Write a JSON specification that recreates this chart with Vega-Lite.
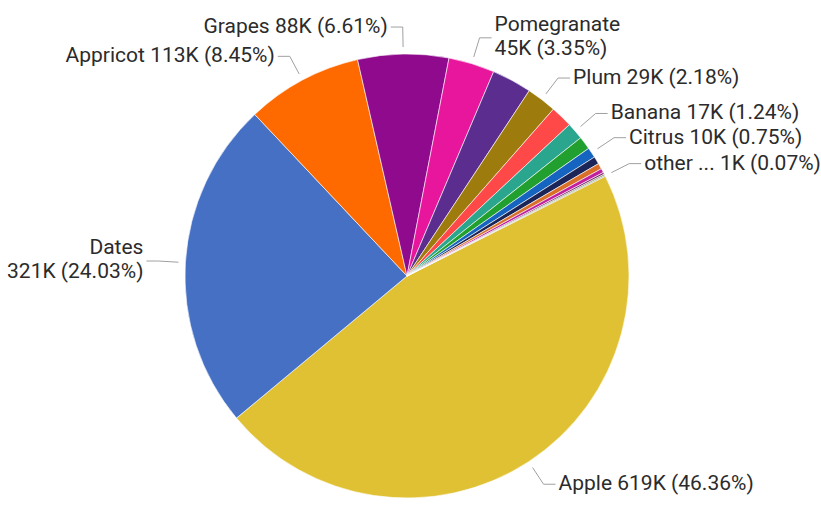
{
  "$schema": "https://vega.github.io/schema/vega-lite/v6.json",
  "width": 814,
  "height": 468,
  "autosize": "none",
  "padding": {"top": 42, "left": 0, "right": 7, "bottom": 0},
  "background": "white",
  "config": {"view": {"stroke": null}},
  "data": {
    "values": [
      {"fruit": "Apple", "value": 619140},
      {"fruit": "Dates", "value": 320920},
      {"fruit": "Appricot", "value": 112850},
      {"fruit": "Grapes", "value": 88280},
      {"fruit": "Pomegranate", "value": 44740},
      {"fruit": "Mango", "value": 38730},
      {"fruit": "Plum", "value": 29110},
      {"fruit": "Cherry", "value": 21370},
      {"fruit": "Banana", "value": 16560},
      {"fruit": "Kiwi", "value": 12690},
      {"fruit": "Citrus", "value": 10020},
      {"fruit": "Peach", "value": 7350},
      {"fruit": "Pear", "value": 5610},
      {"fruit": "Fig", "value": 4010},
      {"fruit": "Guava", "value": 1870},
      {"fruit": "Lychee", "value": 1340},
      {"fruit": "other ...", "value": 930}
    ]
  },
  "transform": [
    {"joinaggregate": [{"op": "sum", "field": "value", "as": "total"}]},
    {"window": [{"op": "sum", "field": "value", "as": "cum"}], "sort": [{"field": "value", "order": "descending"}], "frame": [null, 0]},
    {"calculate": "1.1048 + 2*PI*(datum.cum - datum.value)/datum.total", "as": "a0"},
    {"calculate": "1.1048 + 2*PI*datum.cum/datum.total", "as": "a1"},
    {"calculate": "(datum.a0 + datum.a1)/2", "as": "mid"},
    {"calculate": "sin(datum.mid) >= 0 ? 1 : -1", "as": "dir"},
    {"calculate": "229*sin(datum.mid)", "as": "rx"},
    {"calculate": "229*cos(datum.mid)", "as": "ry"},
    {"calculate": "249*sin(datum.mid)", "as": "ex"},
    {"calculate": "249*cos(datum.mid)", "as": "ey"},
    {"calculate": "datum.ex + datum.dir*12", "as": "hx"},
    {"calculate": "datum.ex + datum.dir*15", "as": "tx"},
    {"calculate": "datum.fruit == 'Dates' || datum.fruit == 'Pomegranate'", "as": "wrap"},
    {"calculate": "datum.ey + (datum.wrap ? 13 : 0)", "as": "ty"},
    {"calculate": "datum.value/datum.total*100", "as": "pct"},
    {"calculate": "datum.fruit + (datum.wrap ? '\\n' : ' ') + format(datum.value/1000, '.0f') + 'K (' + format(datum.pct, '.2f') + '%)'", "as": "label"}
  ],
  "layer": [
    {
      "mark": {"type": "arc", "outerRadius": 222, "stroke": "white", "strokeWidth": 0.6},
      "encoding": {
        "theta": {"field": "a0", "type": "quantitative", "scale": null, "stack": null},
        "theta2": {"field": "a1"},
        "color": {
          "field": "fruit",
          "type": "nominal",
          "legend": null,
          "scale": {
            "domain": ["Apple", "Dates", "Appricot", "Grapes", "Pomegranate", "Mango", "Plum", "Cherry", "Banana", "Kiwi", "Citrus", "Peach", "Pear", "Fig", "Guava", "Lychee", "other ..."],
            "range": ["#DFC133", "#4570C4", "#FF6A00", "#8F0A8C", "#E8169C", "#5B2D8E", "#9E7B0D", "#FF4848", "#2AA58E", "#22A02F", "#1565C0", "#1B2557", "#D9702A", "#C1209F", "#7D2570", "#6E8A3A", "#8C8C8C"]
          }
        }
      }
    },
    {
      "transform": [{"filter": "indexof(['Apple','Dates','Appricot','Grapes','Pomegranate','Plum','Banana','Citrus','other ...'], datum.fruit) >= 0"}],
      "mark": {"type": "rule", "color": "#A0A0A0", "strokeWidth": 1},
      "encoding": {
        "x": {"field": "rx", "type": "quantitative", "axis": null, "scale": {"domain": [-407, 407], "nice": false, "zero": false}},
        "y": {"field": "ry", "type": "quantitative", "axis": null, "scale": {"domain": [-234, 234], "nice": false, "zero": false}},
        "x2": {"field": "ex"},
        "y2": {"field": "ey"}
      }
    },
    {
      "transform": [{"filter": "indexof(['Apple','Dates','Appricot','Grapes','Pomegranate','Plum','Banana','Citrus','other ...'], datum.fruit) >= 0"}],
      "mark": {"type": "rule", "color": "#A0A0A0", "strokeWidth": 1},
      "encoding": {
        "x": {"field": "ex", "type": "quantitative", "axis": null, "scale": {"domain": [-407, 407], "nice": false, "zero": false}},
        "y": {"field": "ey", "type": "quantitative", "axis": null, "scale": {"domain": [-234, 234], "nice": false, "zero": false}},
        "x2": {"field": "hx"},
        "y2": {"field": "ey"}
      }
    },
    {
      "transform": [
        {"filter": "indexof(['Apple','Dates','Appricot','Grapes','Pomegranate','Plum','Banana','Citrus','other ...'], datum.fruit) >= 0"},
        {"filter": "datum.dir > 0"}
      ],
      "mark": {"type": "text", "align": "left", "baseline": "middle", "font": "Roboto", "fontSize": 21, "color": "#2B2B2B", "lineBreak": "\n", "lineHeight": 24},
      "encoding": {
        "x": {"field": "tx", "type": "quantitative", "axis": null, "scale": {"domain": [-407, 407], "nice": false, "zero": false}},
        "y": {"field": "ty", "type": "quantitative", "axis": null, "scale": {"domain": [-234, 234], "nice": false, "zero": false}},
        "text": {"field": "label", "type": "nominal"}
      }
    },
    {
      "transform": [
        {"filter": "indexof(['Apple','Dates','Appricot','Grapes','Pomegranate','Plum','Banana','Citrus','other ...'], datum.fruit) >= 0"},
        {"filter": "datum.dir < 0"}
      ],
      "mark": {"type": "text", "align": "right", "baseline": "middle", "font": "Roboto", "fontSize": 21, "color": "#2B2B2B", "lineBreak": "\n", "lineHeight": 24},
      "encoding": {
        "x": {"field": "tx", "type": "quantitative", "axis": null, "scale": {"domain": [-407, 407], "nice": false, "zero": false}},
        "y": {"field": "ty", "type": "quantitative", "axis": null, "scale": {"domain": [-234, 234], "nice": false, "zero": false}},
        "text": {"field": "label", "type": "nominal"}
      }
    }
  ]
}
